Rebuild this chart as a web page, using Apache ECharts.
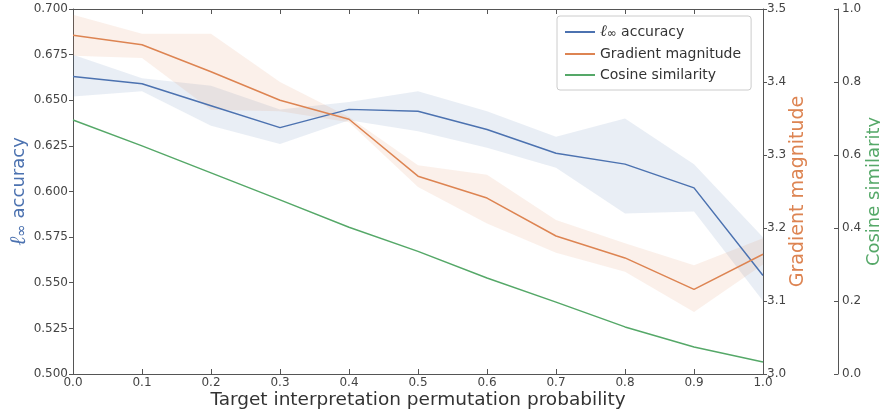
<!DOCTYPE html>
<html>
<head>
<meta charset="utf-8">
<script src="https://cdn.jsdelivr.net/npm/echarts@6/dist/echarts.min.js"></script>
<style>html,body{margin:0;padding:0;background:#fff;}#c{width:880px;height:416px;}</style>
</head>
<body>
<div id="c"></div>
<script>
const xs = [0.0, 0.1, 0.2, 0.3, 0.4, 0.5, 0.6, 0.7, 0.8, 0.9, 1.0];
const accMean = [0.663, 0.659, 0.647, 0.635, 0.645, 0.644, 0.634, 0.621, 0.615, 0.602, 0.554];
const accLow  = [0.652, 0.655, 0.636, 0.626, 0.639, 0.633, 0.624, 0.613, 0.588, 0.589, 0.540];
const accHigh = [0.675, 0.662, 0.658, 0.645, 0.649, 0.655, 0.644, 0.630, 0.640, 0.615, 0.575];
const gradMean = [3.464, 3.451, 3.414, 3.375, 3.349, 3.271, 3.241, 3.189, 3.159, 3.116, 3.164];
const gradLow  = [3.436, 3.433, 3.362, 3.360, 3.345, 3.256, 3.206, 3.166, 3.140, 3.085, 3.150];
const gradHigh = [3.492, 3.466, 3.466, 3.400, 3.352, 3.286, 3.273, 3.211, 3.179, 3.149, 3.186];
const cosSim = [0.696, 0.625, 0.551, 0.477, 0.402, 0.336, 0.263, 0.197, 0.129, 0.074, 0.033];

const names = ['ℓ∞ accuracy', 'Gradient magnitude', 'Cosine similarity'];
const BLUE = '#4c72b0', ORANGE = '#dd8452', GREEN = '#55a868';
const FONT = 'DejaVu Sans';

const pairs = (ys) => xs.map((x, i) => [x, ys[i]]);

function bandSeries(lo, hi, yIdx, color) {
  return {
    type: 'custom', yAxisIndex: yIdx, silent: true, z: 1,
    data: [[xs[0], lo[0]]],
    renderItem: function (params, api) {
      const pts = [];
      for (let i = 0; i < xs.length; i++) pts.push(api.coord([xs[i], hi[i]]));
      for (let i = xs.length - 1; i >= 0; i--) pts.push(api.coord([xs[i], lo[i]]));
      return { type: 'polygon', shape: { points: pts }, style: { fill: color, opacity: 0.12 } };
    }
  };
}

const axisLineStyle = { color: '#555', width: 1 };
const tickLabel = { fontFamily: FONT, fontSize: 12, color: '#444' };

const chart = echarts.init(document.getElementById('c'), null, { renderer: 'canvas' });
chart.setOption({
  animation: false,
  backgroundColor: '#fff',
  grid: { left: 73, right: 117, top: 9, bottom: 42, containLabel: false, outerBoundsMode: 'none' },
  legend: {
    data: names,
    orient: 'vertical',
    left: 557, top: 16,
    itemWidth: 30, itemHeight: 2, icon: 'rect',
    itemGap: 7,
    padding: [8, 10, 8, 8],
    borderColor: '#ccc', borderWidth: 1, borderRadius: 3,
    backgroundColor: '#fff',
    formatter: n => n === names[0] ? '{l|ℓ}{s|∞} accuracy' : n,
    textStyle: { fontFamily: FONT, fontSize: 14, color: '#333',
      rich: { l: { fontFamily: 'DejaVu Serif', fontStyle: 'italic', fontSize: 16, color: '#333' },
              s: { fontFamily: FONT, fontSize: 12, color: '#333', verticalAlign: 'bottom' } } }
  },
  xAxis: [{
    type: 'value', min: 0, max: 1, interval: 0.1,
    name: 'Target interpretation permutation probability',
    nameLocation: 'middle', nameGap: 17, nameMoveOverlap: false,
    nameTextStyle: { fontFamily: FONT, fontSize: 18.5, color: '#333' },
    axisLine: { onZero: false, lineStyle: axisLineStyle },
    axisTick: { inside: true, length: 5, lineStyle: axisLineStyle },
    axisLabel: Object.assign({ margin: 3, formatter: v => v.toFixed(1) }, tickLabel),
    splitLine: { show: false }
  }, {
    type: 'value', min: 0, max: 1, interval: 0.1, position: 'top',
    axisLine: { onZero: false, lineStyle: axisLineStyle },
    axisTick: { inside: true, length: 5, lineStyle: axisLineStyle },
    axisLabel: { show: false },
    splitLine: { show: false }
  }],
  yAxis: [{
    type: 'value', min: 0.5, max: 0.7, interval: 0.025, position: 'left',
    name: '{l|ℓ}{s|∞} accuracy',
    nameLocation: 'middle', nameGap: 43, nameMoveOverlap: false,
    nameTextStyle: { fontFamily: FONT, fontSize: 18, color: BLUE,
      rich: { l: { fontFamily: 'DejaVu Serif', fontStyle: 'italic', fontSize: 22, color: BLUE },
              s: { fontFamily: FONT, fontSize: 15, color: BLUE, verticalAlign: 'bottom' } } },
    axisLine: { show: true, onZero: false, lineStyle: axisLineStyle },
    axisTick: { show: true, length: 4, lineStyle: axisLineStyle },
    axisLabel: Object.assign({ margin: 5, formatter: v => v.toFixed(3) }, tickLabel),
    splitLine: { show: false }
  }, {
    type: 'value', min: 3.0, max: 3.5, interval: 0.1, position: 'right',
    name: 'Gradient magnitude',
    nameLocation: 'middle', nameGap: 26, nameMoveOverlap: false,
    nameTextStyle: { fontFamily: FONT, fontSize: 19, color: ORANGE },
    axisLine: { show: true, onZero: false, lineStyle: axisLineStyle },
    axisTick: { show: true, length: 4, lineStyle: axisLineStyle },
    axisLabel: Object.assign({ margin: 4, formatter: v => v.toFixed(1) }, tickLabel),
    splitLine: { show: false }
  }, {
    type: 'value', min: 0, max: 1, interval: 0.2, position: 'right', offset: 75,
    name: 'Cosine similarity',
    nameLocation: 'middle', nameGap: 27, nameMoveOverlap: false,
    nameTextStyle: { fontFamily: FONT, fontSize: 18, color: GREEN },
    axisLine: { show: true, onZero: false, lineStyle: axisLineStyle },
    axisTick: { show: true, inside: true, length: 4, lineStyle: axisLineStyle },
    axisLabel: Object.assign({ margin: 4, formatter: v => v.toFixed(1) }, tickLabel),
    splitLine: { show: false }
  }],
  series: [
    bandSeries(accLow, accHigh, 0, BLUE),
    bandSeries(gradLow, gradHigh, 1, ORANGE),
    { type: 'line', name: names[0], yAxisIndex: 0, data: pairs(accMean), symbol: 'none',
      color: BLUE, lineStyle: { color: BLUE, width: 1.5 }, z: 3 },
    { type: 'line', name: names[1], yAxisIndex: 1, data: pairs(gradMean), symbol: 'none',
      color: ORANGE, lineStyle: { color: ORANGE, width: 1.5 }, z: 3 },
    { type: 'line', name: names[2], yAxisIndex: 2, data: pairs(cosSim), symbol: 'none',
      color: GREEN, lineStyle: { color: GREEN, width: 1.5 }, z: 3 }
  ]
});
</script>
</body>
</html>
